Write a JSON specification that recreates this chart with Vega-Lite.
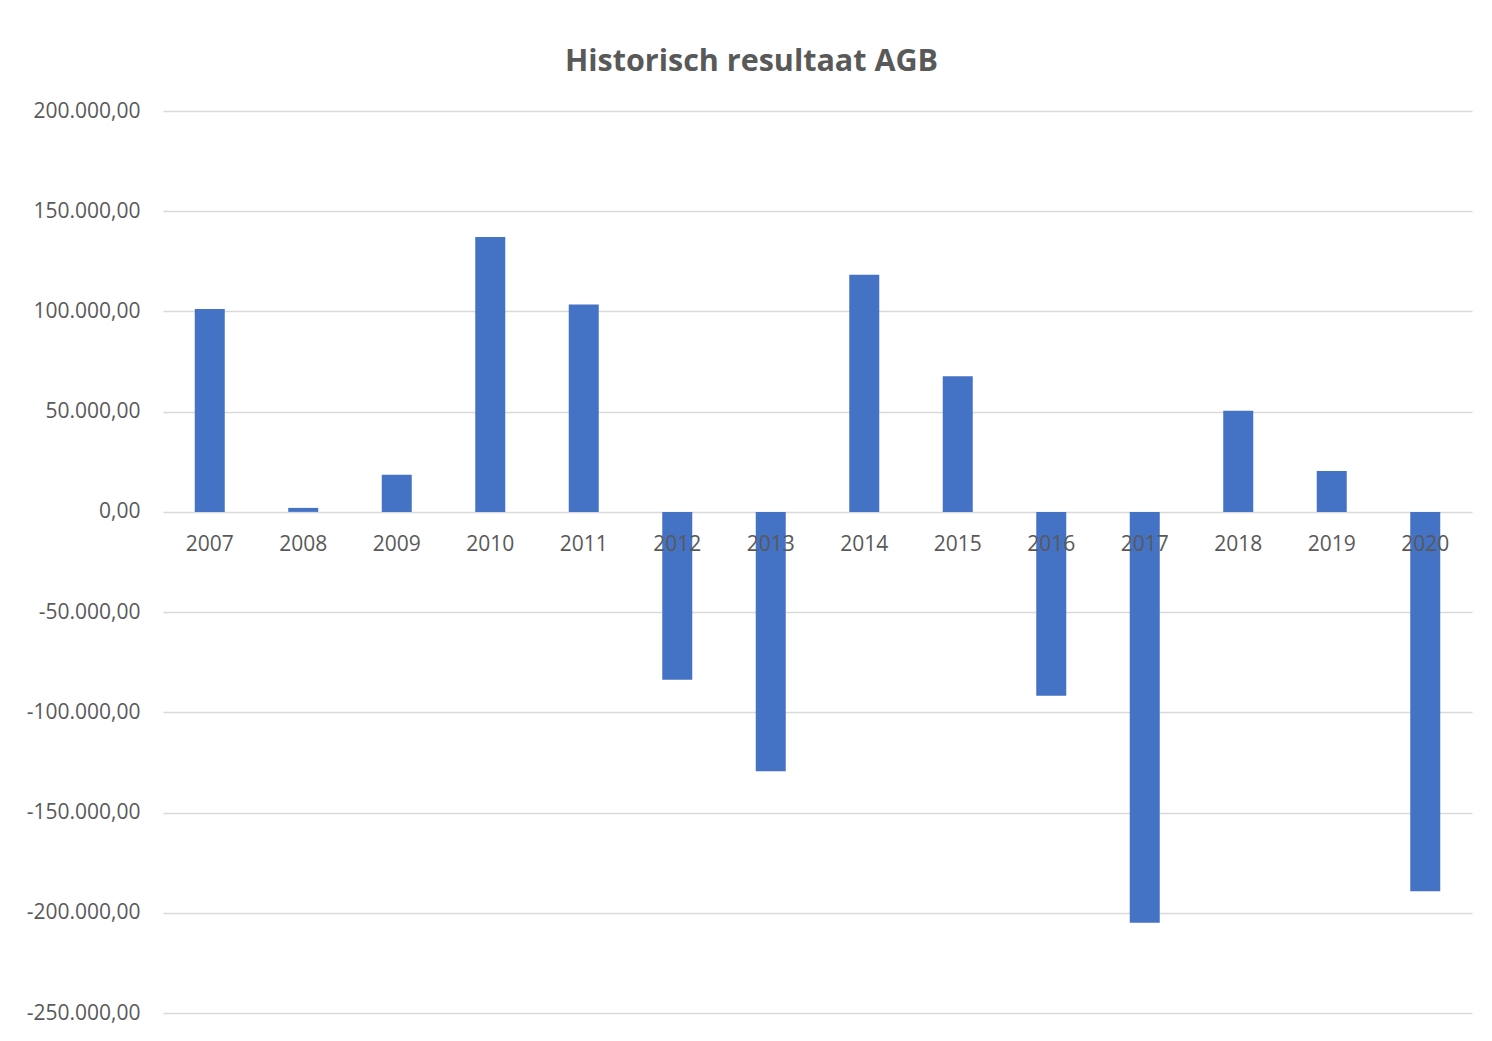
{
  "$schema": "https://vega.github.io/schema/vega-lite/v6.json",
  "width": 1309,
  "height": 902,
  "autosize": {"type": "none"},
  "padding": {"left": 163, "top": 111, "right": 20, "bottom": 28},
  "background": "white",
  "title": {
    "text": "Historisch resultaat AGB",
    "font": "Open Sans",
    "fontSize": 30.5,
    "fontWeight": "bold",
    "color": "#595959",
    "anchor": "middle",
    "dx": -66,
    "offset": 23
  },
  "config": {
    "locale": {
      "number": {"decimal": ",", "thousands": ".", "grouping": [3], "currency": ["€", ""], "minus": "-"}
    },
    "view": {"stroke": null},
    "font": "Open Sans"
  },
  "data": {
    "values": [
      {"Jaar": "2007", "Resultaat": 101200},
      {"Jaar": "2008", "Resultaat": 2000},
      {"Jaar": "2009", "Resultaat": 18500},
      {"Jaar": "2010", "Resultaat": 137100},
      {"Jaar": "2011", "Resultaat": 103500},
      {"Jaar": "2012", "Resultaat": -83800},
      {"Jaar": "2013", "Resultaat": -129400},
      {"Jaar": "2014", "Resultaat": 118300},
      {"Jaar": "2015", "Resultaat": 67700},
      {"Jaar": "2016", "Resultaat": -91700},
      {"Jaar": "2017", "Resultaat": -205000},
      {"Jaar": "2018", "Resultaat": 50500},
      {"Jaar": "2019", "Resultaat": 20400},
      {"Jaar": "2020", "Resultaat": -189200}
    ]
  },
  "mark": {"type": "bar", "width": 30, "color": "#4472C4"},
  "encoding": {
    "x": {
      "field": "Jaar",
      "type": "ordinal",
      "scale": {"paddingInner": 0, "paddingOuter": 0},
      "axis": {
        "title": null,
        "labelAngle": 0,
        "domain": false,
        "ticks": false,
        "offset": -501,
        "labelPadding": 21,
        "labelFont": "Open Sans",
        "labelFontSize": 21,
        "labelColor": "#595959",
        "zindex": 1
      }
    },
    "y": {
      "field": "Resultaat",
      "type": "quantitative",
      "scale": {"domain": [-250000, 200000], "nice": false, "zero": false},
      "axis": {
        "title": null,
        "values": [-250000, -200000, -150000, -100000, -50000, 0, 50000, 100000, 150000, 200000],
        "format": ",.2f",
        "domain": false,
        "ticks": false,
        "labelPadding": 23,
        "labelFont": "Open Sans",
        "labelFontSize": 21,
        "labelColor": "#595959",
        "gridColor": "#d9d9d9",
        "gridWidth": 1.5
      }
    }
  }
}
